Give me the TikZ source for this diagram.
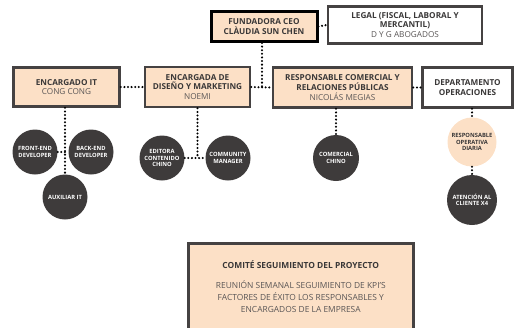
\documentclass[tikz,border=0pt]{standalone}
\usepackage{fontspec}
\setmainfont{Open Sans}
\definecolor{peach}{HTML}{FCE0C6}
\definecolor{frame}{HTML}{454242}
\definecolor{disc}{HTML}{3E3B3B}
\definecolor{txt}{HTML}{3A3838}
\definecolor{sub}{HTML}{5A5656}
\tikzset{
  box/.style={draw=frame, line width=2.6pt, fill=peach, align=center, inner sep=1pt,
    font=\fontsize{8.2}{9.6}\selectfont, text=txt},
  wbox/.style={box, fill=white},
  disk/.style={circle, fill=disc, minimum size=#1, inner sep=0pt, align=center,
    text=white, font=\fontsize{5.8}{6.2}\selectfont\bfseries},
  pdisk/.style={disk=#1, fill=peach, text=txt},
  dots/.style={line width=2.3pt, line cap=round, dash pattern=on 0pt off 3.6pt, draw=black}
}
\newcommand{\nm}[1]{{\color{sub}\mdseries #1}}
\begin{document}
\begin{tikzpicture}[x=1pt,y=-1pt]
\useasboundingbox (0,0) rectangle (517,327);
\clip (0,0) rectangle (517,327);
% top row
\node[box, draw=black, line width=3pt, minimum width=106pt, minimum height=30pt] (ceo) at (264,26.5)
  {\bfseries FUNDADORA CEO\\\bfseries CLÀUDIA SUN CHEN};
\node[wbox, minimum width=154pt, minimum height=37pt] (legal) at (405,25)
  {\bfseries LEGAL (FISCAL, LABORAL Y\\\bfseries MERCANTIL)\\\nm{D Y G ABOGADOS}};
% second row
\node[box, minimum width=106pt, minimum height=39pt] (it) at (66.5,87)
  {\bfseries ENCARGADO IT\\\nm{CONG CONG}};
\node[box, minimum width=105pt, minimum height=40pt] (dis) at (197.5,87)
  {\bfseries ENCARGADA DE\\\bfseries DISEÑO Y MARKETING\\\nm{NOEMI}};
\node[box, minimum width=139pt, minimum height=40pt] (com) at (342.5,87.5)
  {\bfseries RESPONSABLE COMERCIAL Y\\\bfseries RELACIONES PÚBLICAS\\\nm{NICOLÁS MEGIAS}};
\node[wbox, minimum width=90pt, minimum height=40pt] (ops) at (467.5,87.5)
  {\bfseries DEPARTAMENTO\\\bfseries OPERACIONES};
% circles
\node[disk=45pt] (fe) at (35,152) {FRONT-END\\DEVELOPER};
\node[disk=45pt] (be) at (91,152) {BACK-END\\DEVELOPER};
\node[disk=45pt] (aux) at (65,197) {AUXILIAR IT};
\node[disk=45pt] (ed) at (162,158) {EDITORA\\CONTENIDO\\CHINO};
\node[disk=45pt] (cm) at (228,158) {COMMUNITY\\MANAGER};
\node[disk=46pt] (cc) at (336,158) {COMERCIAL\\CHINO};
\node[pdisk=49pt] (rod) at (472,142) {RESPONSABLE\\OPERATIVA\\DIARIA};
\node[disk=50pt] (atc) at (472,200) {ATENCIÓN AL\\CLIENTE X4};
% committee
\node[draw=frame, line width=2.6pt, fill=peach, anchor=north west, inner sep=0pt,
  text=txt, font=\fontsize{8.4}{12}\selectfont] (comite) at (187,242)
  {\begin{minipage}[t][95pt][t]{225pt}\centering
   \rule{0pt}{25pt}{\bfseries COMITÉ SEGUIMIENTO DEL PROYECTO}\\[8pt]
   {\color{sub}REUNIÓN SEMANAL SEGUIMIENTO DE KPI'S\\
   FACTORES DE ÉXITO LOS RESPONSABLES Y\\ENCARGADOS DE LA EMPRESA}
   \end{minipage}};
% connectors
\coordinate (j1) at (262,87);
\draw[dots] (ceo.east) -- (legal.west);
\draw[dots] (ceo.south -| j1) -- (j1);
\draw[dots] (dis.east) -- (com.west);
\draw[dots] (it.east) -- (dis.west);
\draw[dots] (com.east) -- (ops.west);
\coordinate (itx) at (65,0);
\draw[dots] (it.south -| itx) -- (aux.north);
\draw[dots] (fe.east) -- (be.west);
\coordinate (dj) at (dis.south |- ed.east);
\draw[dots] (dis.south) -- (dj);
\draw[dots] (ed.east) -- (cm.west);
\draw[dots] (com.south -| cc) -- (cc.north);
\draw[dots] (ops.south -| rod) -- (rod.north);
\draw[dots] (rod.south) -- (atc.north);
\end{tikzpicture}
\end{document}
